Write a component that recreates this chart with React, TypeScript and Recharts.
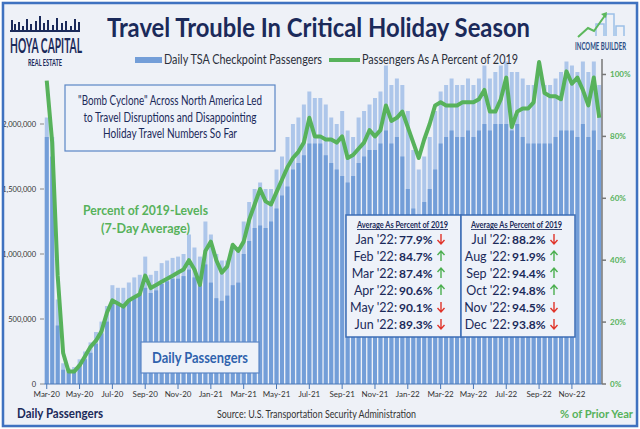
import React from "react"
import { ComposedChart, Bar, Line, XAxis, YAxis } from "recharts"

// Mar-20 .. Dec-22, three readings per month (1st, 11th, 21st)
const months = [
  "2020-03", "2020-04", "2020-05", "2020-06", "2020-07", "2020-08", "2020-09", "2020-10", "2020-11", "2020-12",
  "2021-01", "2021-02", "2021-03", "2021-04", "2021-05", "2021-06", "2021-07", "2021-08", "2021-09", "2021-10", "2021-11", "2021-12",
  "2022-01", "2022-02", "2022-03", "2022-04", "2022-05", "2022-06", "2022-07", "2022-08", "2022-09", "2022-10", "2022-11", "2022-12",
]
const days = ["01", "11", "21"]

// daily TSA passengers, thousands: light peaks (busiest days) and typical days
const peakPassengers = [
  [2050, 1900, 650], [160, 120, 130], [190, 250, 320], [400, 480, 600], [760, 740, 740], [780, 820, 840],
  [980, 840, 870], [930, 950, 970], [980, 1000, 1150], [1050, 980, 1250],
  [1150, 1000, 950], [950, 1050, 1050], [1250, 1400, 1500], [1550, 1500, 1500], [1650, 1750, 1900], [2000, 2050, 2150],
  [2250, 2200, 2200], [2150, 2050, 2000], [2100, 1950, 1900], [2050, 2100, 2150], [2200, 2250, 2450], [2300, 2350, 2300],
  [2100, 1800, 1650], [1750, 1900, 2100], [2250, 2300, 2350], [2300, 2300, 2350], [2300, 2350, 2450], [2350, 2400, 2450],
  [2480, 2400, 2400], [2350, 2300, 2300], [2450, 2300, 2300], [2350, 2400, 2480], [2450, 2400, 2480], [2400, 2480, 2300],
]
const typicalPassengers = [
  [1900, 1750, 450], [110, 90, 95], [150, 190, 240], [310, 390, 480], [620, 610, 610], [640, 670, 690],
  [740, 700, 720], [770, 790, 810], [810, 830, 880], [820, 760, 920],
  [780, 660, 640], [680, 760, 780], [1000, 1100, 1200], [1220, 1200, 1250], [1350, 1450, 1520], [1650, 1700, 1760],
  [1850, 1850, 1850], [1760, 1700, 1650], [1600, 1550, 1600], [1700, 1750, 1800], [1800, 1850, 1950], [1850, 1900, 1750],
  [1500, 1350, 1300], [1400, 1500, 1650], [1850, 1900, 1950], [1900, 1900, 1950], [1900, 1950, 2000], [1950, 2000, 2000],
  [2000, 1950, 2000], [1900, 1850, 1850], [1850, 1850, 1850], [1900, 1950, 1950], [1950, 1900, 2000], [1900, 1950, 1800],
]
// percent of 2019 levels, 7-day average
const pctOf2019 = [
  [98, 78, 35], [10, 4, 4], [6, 9, 12], [14, 17, 23], [27, 26, 25], [27, 28, 29],
  [35, 31, 32], [33, 34, 35], [36, 37, 40], [37, 32, 43],
  [46, 40, 36], [38, 45, 43], [46, 53, 58], [63, 59, 58], [62, 66, 70], [73, 75, 78],
  [86, 80, 80], [79, 79, 78], [80, 73, 74], [76, 78, 82], [80, 82, 90], [85, 86, 88],
  [83, 78, 73], [79, 84, 90], [91, 90, 90], [90, 91, 91], [91, 92, 95], [88, 88, 92],
  [99, 83, 88], [89, 89, 91], [104, 94, 93], [93, 92, 101], [97, 99, 95], [90, 99, 86],
]

const leftTicks = [0, 500, 1000, 1500, 2000]
const rightTicks = [0, 20, 40, 60, 80, 100]
const xTicks = months.filter((_, i) => i % 2 === 0).map(m => m + "-01")
const monthNames = ["Jan", "Feb", "Mar", "Apr", "May", "Jun", "Jul", "Aug", "Sep", "Oct", "Nov", "Dec"]

const tableMonths = ["Jan '22", "Feb '22", "Mar '22", "Apr '22", "May '22", "Jun '22", "Jul '22", "Aug '22", "Sep '22", "Oct '22", "Nov '22", "Dec '22"]
const tableValues = ["77.9%", "84.7%", "87.4%", "90.6%", "90.1%", "89.3%", "88.2%", "91.9%", "94.4%", "94.8%", "94.5%", "93.8%"]
const tableUp = [false, true, true, true, false, false, false, true, true, true, false, false]

const data = months.flatMap((m, i) =>
  days.map((d, j) => ({
    date: `${m}-${d}`,
    peak: peakPassengers[i][j],
    typical: typicalPassengers[i][j],
    pct: pctOf2019[i][j],
  }))
)

const NAVY = "#1b2a5a"
const GREEN = "#57b25b"
const BG = "#eef1f7"
const FONT = "Lato, 'Open Sans', sans-serif"

const fmtDate = (v: string) => {
  const [y, m] = v.split("-")
  return `${monthNames[Number(m) - 1]}-${y.slice(2)}`
}

const Txt = ({ x, y, w, size, bold, fill = NAVY, anchor = "start", children, underline }: any) => (
  <text x={x} y={y} fontSize={size} fontWeight={bold ? 700 : 400} fill={fill} textAnchor={anchor}
    textLength={w} lengthAdjust="spacingAndGlyphs" fontFamily={FONT}
    textDecoration={underline ? "underline" : undefined}>
    {children}
  </text>
)

// tall condensed logo lettering: small font stretched vertically
const TallTxt = ({ x, y, w, size, sy, fill = NAVY, children }: any) => (
  <text transform={`translate(${x} ${y}) scale(1 ${sy})`} x={0} y={0} fontSize={size} fontWeight={700}
    fill={fill} textLength={w} lengthAdjust="spacingAndGlyphs" fontFamily={FONT}>
    {children}
  </text>
)

const Arrow = ({ x, y, up }: { x: number, y: number, up: boolean }) => {
  const top = y - 10, bot = y
  const d = up
    ? `M${x} ${bot} V${top} M${x - 3.5} ${top + 4} L${x} ${top} L${x + 3.5} ${top + 4}`
    : `M${x} ${top} V${bot} M${x - 3.5} ${bot - 4} L${x} ${bot} L${x + 3.5} ${bot - 4}`
  return <path d={d} stroke={up ? "#4caf50" : "#e0352b"} strokeWidth={1.4} fill="none" />
}

// one column of the monthly table
const TableRows = ({ labelEnd, from }: { labelEnd: number, from: number }) => (
  <>
    {tableMonths.slice(from, from + 6).map((m, i) => {
      const k = from + i
      const y = 244 + i * 17
      return (
        <g key={m}>
          <text x={labelEnd} y={y} fontSize={12.5} fill={NAVY} textAnchor="end" fontFamily={FONT}>{m}:</text>
          <text x={labelEnd + 2} y={y} fontSize={12} fontWeight={700} fill={NAVY} fontFamily={FONT}>{tableValues[k]}</text>
          <Arrow x={labelEnd + 44} y={y} up={tableUp[k]} />
        </g>
      )
    })}
  </>
)

export default function App() {
  return (
    <div style={{ position: "absolute", left: 0, top: 0, width: 640, height: 429, background: BG }}>
      <ComposedChart width={640} height={429} data={data} barCategoryGap="14%"
        margin={{ top: 59, right: 8, bottom: 25, left: 8 }}>
        <XAxis xAxisId="main" dataKey="date" ticks={xTicks} interval={0} tickFormatter={fmtDate}
          height={20} tickSize={5} stroke="#4a78b8"
          tick={{ fontSize: 8, fill: "#333", fontFamily: FONT }} />
        <XAxis xAxisId="peak" dataKey="date" hide />
        <YAxis yAxisId="pax" domain={[0, 2500]} ticks={leftTicks} width={36} tickSize={4} tickMargin={4}
          axisLine={false} tickLine={{ stroke: "#888" }}
          tickFormatter={(v: number) => (v * 1000).toLocaleString("en-US")}
          tick={{ fontSize: 7.5, fill: "#333", fontFamily: FONT }} />
        <YAxis yAxisId="pct" orientation="right" domain={[0, 105]} ticks={rightTicks} width={30}
          tickSize={4} tickMargin={4} stroke="#777" strokeWidth={1.5}
          tickFormatter={(v: number) => v + "%"}
          tick={{ fontSize: 8, fill: GREEN, fontWeight: 700, fontFamily: FONT }} />
        <Bar xAxisId="peak" yAxisId="pax" dataKey="peak" fill="#adc6ea" isAnimationActive={false} />
        <Bar xAxisId="main" yAxisId="pax" dataKey="typical" fill="#739ed8" isAnimationActive={false} />
        <Line xAxisId="main" yAxisId="pct" dataKey="pct" type="linear" stroke={GREEN} strokeWidth={4}
          dot={false} strokeLinejoin="round" isAnimationActive={false} />
      </ComposedChart>

      <svg width={640} height={429} style={{ position: "absolute", left: 0, top: 0, pointerEvents: "none" }}>
        <rect x={0.75} y={0.75} width={638.5} height={427.5} fill="none" stroke="#fff" strokeWidth={1.5} />
        <rect x={3} y={3} width={634} height={423} fill="none" stroke="#3f72c0" strokeWidth={2.5} />

        {/* left logo */}
        <path d="M10 31 H80 M12 31 V20 M15 31 V24 M19 31 V22 M23 31 V26 M27 31 V19 M31 31 V24 M36 31 V21 M40 31 V16 M44 31 V23 M48 31 V20 M53 31 V25 M57 31 V18 M62 31 V23 M66 31 V21 M71 31 V26 M75 31 V19 M79 31 V22"
          stroke={NAVY} strokeWidth={2} fill="none" />
        <TallTxt x={10} y={53} w={72} size={12.5} sy={1.65}>HOYA CAPITAL</TallTxt>
        <TallTxt x={28} y={66} w={34} size={6} sy={1.6}>REAL ESTATE</TallTxt>

        {/* right logo */}
        <path d="M596 36 V24 H604 V36 M606 36 V14 H614 V36 M616 36 V26 H624 V36" stroke="#9cc0e8" strokeWidth={1.5} fill="none" />
        <polyline points="578,37 588,28 594,31 606,14" stroke="#5cb85c" strokeWidth={2} fill="none" />
        <path d="M601 14 L607 12 L606 18 Z" fill="#5cb85c" />
        <TallTxt x={575} y={50} w={51} size={7.5} sy={1.4} fill="#2d4f86">INCOME BUILDER</TallTxt>

        {/* title + legend */}
        <Txt x={107} y={37} w={423} size={26} bold>Travel Trouble In Critical Holiday Season</Txt>
        <rect x={135} y={57} width={27} height={6} fill="#739ed8" />
        <Txt x={164} y={64} w={158} size={14} fill="#2b2f3a">Daily TSA Checkpoint Passengers</Txt>
        <line x1={329} y1={60} x2={360} y2={60} stroke={GREEN} strokeWidth={4} />
        <Txt x={362} y={64} w={156} size={14} fill="#2b2f3a">Passengers As A Percent of 2019</Txt>

        {/* annotation */}
        <rect x={65} y={85} width={210} height={66} fill="#eef2f9" stroke="#5b86c5" strokeWidth={1.2} />
        <Txt x={170} y={105} w={184} size={13.5} anchor="middle">"Bomb Cyclone" Across North America Led</Txt>
        <Txt x={170} y={122} w={173} size={13.5} anchor="middle">to Travel Disruptions and Disappointing</Txt>
        <Txt x={170} y={138} w={134} size={13.5} anchor="middle">Holiday Travel Numbers So Far</Txt>

        <Txt x={83} y={215} w={125} size={14} bold fill={GREEN}>Percent of 2019-Levels</Txt>
        <Txt x={101} y={233} w={89} size={14} bold fill={GREEN}>(7-Day Average)</Txt>

        <rect x={141} y={342} width={118} height={31} fill="#eef2f9" stroke="#5b86c5" strokeWidth={1.2} />
        <Txt x={152} y={363} w={96} size={15} bold fill="#2f62ad">Daily Passengers</Txt>

        {/* monthly table */}
        <rect x={346} y={215} width={115} height={122} fill="#eef2f9" stroke="#3d6db5" strokeWidth={1.5} />
        <rect x={461} y={215} width={114} height={122} fill="#eef2f9" stroke="#3d6db5" strokeWidth={1.5} />
        <Txt x={357} y={228} w={91} size={8.5} bold underline>Average As Percent of 2019</Txt>
        <Txt x={471} y={228} w={91} size={8.5} bold underline>Average As Percent of 2019</Txt>
        <TableRows labelEnd={397} from={0} />
        <TableRows labelEnd={510} from={6} />

        {/* footer */}
        <Txt x={17} y={418} w={86} size={13} bold>Daily Passengers</Txt>
        <Txt x={217} y={418} w={199} size={11.5} fill="#333">Source: U.S. Transportation Security Administration</Txt>
        <Txt x={633} y={418} w={73} size={12} bold fill={GREEN} anchor="end">% of Prior Year</Txt>
      </svg>
    </div>
  )
}
